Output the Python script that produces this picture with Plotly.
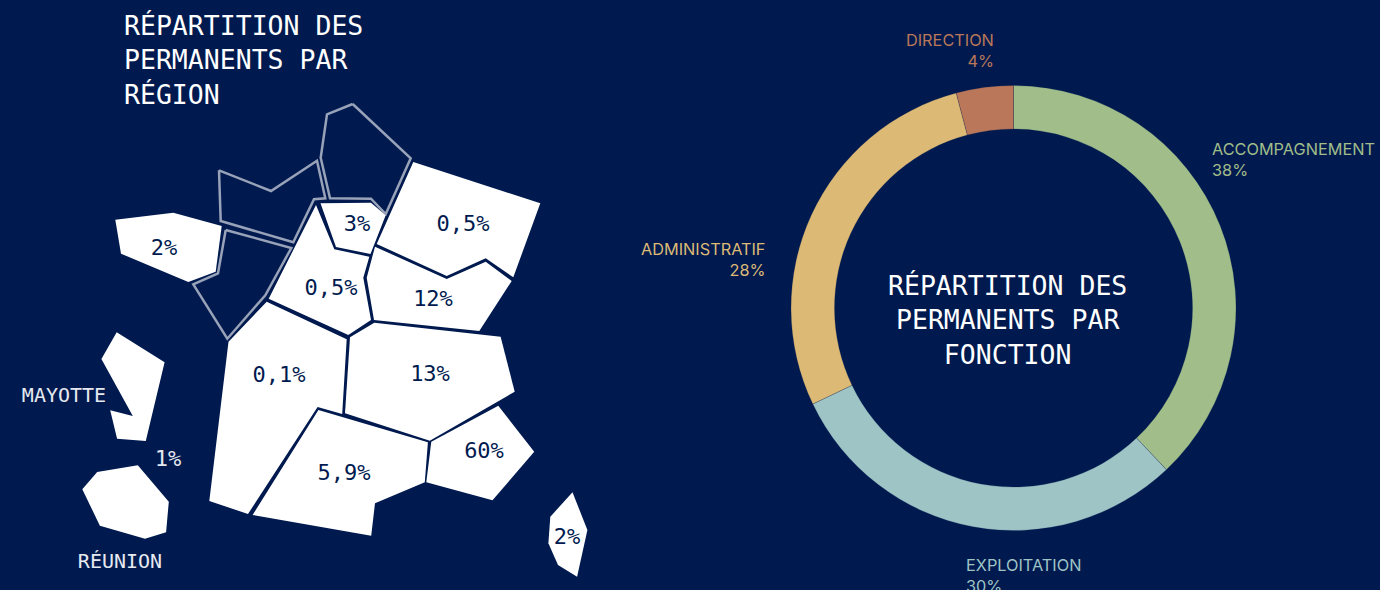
import plotly.graph_objects as go

W, H = 1380, 590
BG = "#001A4F"

# Donut data
fonction_labels = ["ACCOMPAGNEMENT", "EXPLOITATION", "ADMINISTRATIF", "DIRECTION"]
fonction_values = [38, 30, 28, 4.15]
fonction_text = ["38%", "30%", "28%", "4%"]
fonction_colors = ["#A1BD8A", "#9EC4C5", "#DCB975", "#BA7759"]

# Map regions (schematic polygons)
reg_bretagne = [(115.3,219.7),(173.3,212.7),(221.7,226),(215.7,271.7),(188.3,282),(121,253.7)]
reg_idf = [(320.5,203.3),(371,202.7),(385.7,215.3),(370.5,254),(336,247)]
reg_ge = [(413.3,162),(540.3,203.3),(513.3,277.3),(485.7,258.3),(446.7,276),(376.7,244)]
reg_bfc = [(375,246.7),(446.7,279),(485.7,261.7),(511.7,281),(479.3,331),(374,320),(366.7,277.7)]
reg_cvl = [(316,205),(334.3,249.3),(369.3,256.7),(363.3,277.7),(371,320),(348.3,335),(268.7,298.7)]
reg_na = [(228.5,341.7),(266.7,301.7),(346.7,339.3),(342.2,414),(317.6,407),(248,514),(209.3,501)]
reg_ara = [(374.3,322.7),(500.6,336.7),(514.7,391.7),(429.8,440.7),(345,413.3),(350,337.3)]
reg_occ = [(318.4,410),(427.9,442.3),(424.8,482.3),(375,503.3),(371.2,535.7),(252.6,515)]
reg_paca = [(498.3,405.7),(534.2,451.7),(492.5,500.3),(426.3,482.3),(431.3,441.7)]
reg_corse = [(572.5,492.3),(587.4,530),(577.1,576.7),(558,565),(548.4,543.3),(550.3,516.7)]
reg_mayotte = [(116.7,332.3),(164.6,362.3),(145.8,441),(117.1,438.7),(110.2,410.3),(132.8,416),(101.4,359)]
reg_reunion = [(137.8,465.3),(168.8,501.7),(166.1,532.3),(145,538.7),(99.9,525.7),(82.3,489.3),(97.2,472)]
white_regions = [reg_bretagne, reg_idf, reg_ge, reg_bfc, reg_cvl, reg_na, reg_ara, reg_occ, reg_paca, reg_corse, reg_mayotte, reg_reunion]

reg_hdf = [(352.7,104),(410.7,158.3),(385.7,214),(371,198.7),(330,198.3),(320.7,157.7),(327,114.3)]
reg_nor = [(219,170.3),(271,191),(317,160.7),(325.3,198.3),(314,199.3),(293.3,242.3),(220.7,221)]
reg_pdl = [(225.7,230),(291.3,248),(265.3,295.3),(227.3,338.7),(193.3,284.3),(218,273.3)]
empty_regions = [reg_hdf, reg_nor, reg_pdl]

# Region labels
map_values = ["2%", "3%", "0,5%", "0,5%", "12%", "0,1%", "13%", "60%", "5,9%", "2%"]
map_x = [164, 357, 463, 331, 433, 279, 430, 484, 344, 567]
map_y = [249.5, 225.5, 225.5, 289.5, 300.5, 376.5, 375.5, 452.5, 474.5, 538.5]
om_labels = ["MAYOTTE", "RÉUNION", "1%"]
om_x = [64, 120, 168]
om_y = [397, 563, 460.5]
om_sizes = [20, 20, 22]

title_map = "RÉPARTITION DES<br>PERMANENTS PAR<br>RÉGION"
title_donut = "RÉPARTITION DES<br>PERMANENTS PAR<br>FONCTION"

MONO = "DejaVu Sans Mono"
fig = go.Figure()

for poly in empty_regions:
    fig.add_trace(go.Scatter(
        x=[p[0] for p in poly] + [poly[0][0]], y=[p[1] for p in poly] + [poly[0][1]],
        mode="lines", fill="toself", fillcolor=BG,
        line=dict(color="#98A2B8", width=2.5), hoverinfo="skip", showlegend=False))
for poly in white_regions:
    fig.add_trace(go.Scatter(
        x=[p[0] for p in poly] + [poly[0][0]], y=[p[1] for p in poly] + [poly[0][1]],
        mode="lines", fill="toself", fillcolor="#FFFFFF",
        line=dict(color="#FFFFFF", width=0), hoverinfo="skip", showlegend=False))

fig.add_trace(go.Scatter(
    x=map_x, y=map_y, text=map_values, mode="text", textposition="middle center",
    textfont=dict(family=MONO, size=22, color=BG), hoverinfo="skip", showlegend=False))
fig.add_trace(go.Scatter(
    x=om_x, y=om_y, text=om_labels, mode="text", textposition="middle center",
    textfont=dict(family=MONO, size=om_sizes, color="#E6E9F0"), hoverinfo="skip", showlegend=False))

cx, cy, R, r = 1013.5, 308, 222.5, 179
fig.add_trace(go.Pie(
    labels=fonction_labels, values=fonction_values, sort=False, direction="clockwise",
    rotation=0, hole=r / R, textinfo="none", hoverinfo="label+percent", showlegend=False,
    marker=dict(colors=fonction_colors, line=dict(color="rgba(0,26,79,0.35)", width=0.6)),
    domain=dict(x=[(cx - R) / W, (cx + R) / W], y=[(H - cy - R) / H, (H - cy + R) / H])))

# Donut labels
label_x = [1210, 964, 767, 996]
label_y = [159, 575.5, 259, 50]
label_anchor = ["left", "left", "right", "right"]
for name, txt, col, x, y, a in zip(fonction_labels, fonction_text, fonction_colors, label_x, label_y, label_anchor):
    fig.add_annotation(x=x, y=y, xref="x", yref="y", text=f"{name}<br>{txt}", showarrow=False,
                       xanchor=a, yanchor="middle", align=a,
                       font=dict(family="Inter", size=16.3, color=col))

fig.add_annotation(x=122, y=60, xref="x", yref="y", text=title_map, showarrow=False, xanchor="left",
                   yanchor="middle", align="left", font=dict(family=MONO, size=26.5, color="#FFFFFF"))
fig.add_annotation(x=1007, y=320, xref="x", yref="y", text=title_donut, showarrow=False, xanchor="center",
                   yanchor="middle", align="center", font=dict(family=MONO, size=26.5, color="#FFFFFF"))

fig.update_layout(
    width=W, height=H, margin=dict(l=0, r=0, t=0, b=0), autosize=False,
    paper_bgcolor=BG, plot_bgcolor=BG,
    xaxis=dict(range=[0, W], visible=False, fixedrange=True),
    yaxis=dict(range=[H, 0], visible=False, fixedrange=True),
)
fig.write_html("out.html", config={"displayModeBar": False},
               post_script="document.body.style.margin='0';document.body.style.background='#001A4F';document.body.style.overflow='hidden';")
